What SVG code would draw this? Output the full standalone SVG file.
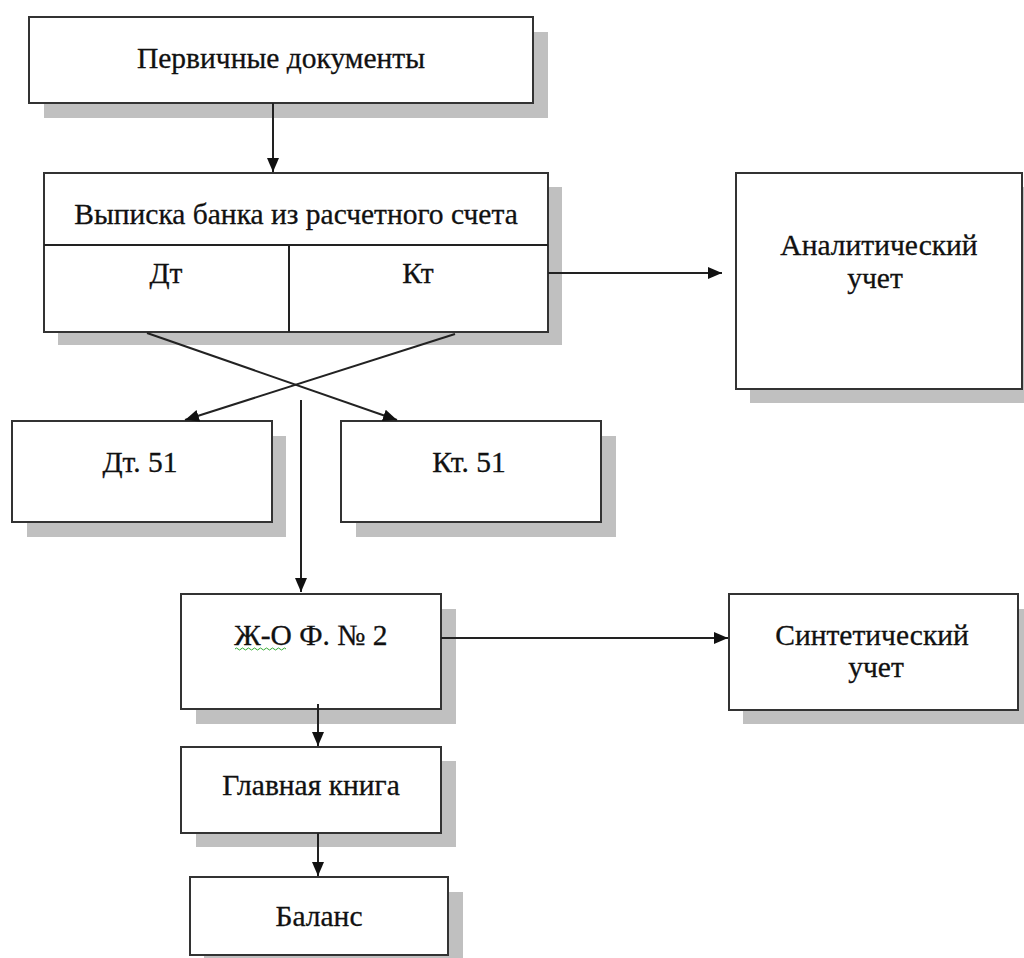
<svg xmlns="http://www.w3.org/2000/svg" width="1024" height="958" viewBox="0 0 1024 958">
<style>
.box{fill:#fff;stroke:#333;stroke-width:2}
.sh{fill:#c0c0c0}
text{font-family:'Liberation Serif','Times New Roman','DejaVu Serif',serif;font-size:29.5px;fill:#111;stroke:#111;stroke-width:0.3;text-anchor:middle}
.c{stroke:#222;stroke-width:2;fill:none}
</style>
<defs>
<marker id="ah" markerUnits="userSpaceOnUse" markerWidth="14" markerHeight="12" refX="14" refY="6" orient="auto">
<path d="M0,0 L14,6 L0,12 Z" fill="#111"/>
</marker>
</defs>
<rect width="1024" height="958" fill="#fff"/>

<g id="n-primary">
<rect class="sh" x="44" y="32" width="504" height="86"/>
<rect class="box" x="29" y="17" width="504" height="86"/>
<text x="281" y="68">Первичные документы</text>
</g>

<g id="n-statement">
<rect class="sh" x="58" y="187" width="504" height="158"/>
<rect class="box" x="44" y="173" width="504" height="159"/>
<line class="c" x1="44" y1="245" x2="548" y2="245"/>
<line class="c" x1="289" y1="245" x2="289" y2="332"/>
<text x="296" y="224">Выписка банка из расчетного счета</text>
<text x="166" y="283">Дт</text>
<text x="418" y="283">Кт</text>
</g>

<g id="n-analytic">
<rect class="sh" x="750" y="187" width="290" height="216"/>
<rect class="box" x="736" y="173" width="286" height="216"/>
<text x="879" y="255">Аналитический</text>
<text x="875" y="288">учет</text>
</g>

<g id="n-dt51">
<rect class="sh" x="27" y="436" width="259" height="101"/>
<rect class="box" x="12" y="421" width="260" height="101"/>
<text x="140" y="472">Дт. 51</text>
</g>

<g id="n-kt51">
<rect class="sh" x="356" y="436" width="260" height="101"/>
<rect class="box" x="341" y="421" width="260" height="101"/>
<text x="469" y="472">Кт. 51</text>
</g>

<g id="n-jo2">
<rect class="sh" x="196" y="609" width="260" height="115"/>
<rect class="box" x="181" y="594" width="260" height="115"/>
<text x="311" y="645">Ж-О Ф. № 2</text>
<path d="M235,649 q1.5,-2 3,0 t3,0 t3,0 t3,0 t3,0 t3,0 t3,0 t3,0 t3,0 t3,0 t3,0 t3,0 t3,0 t3,0 t3,0 t3,0 t3,0" fill="none" stroke="#3a3" stroke-width="1"/>
</g>

<g id="n-synthetic">
<rect class="sh" x="743" y="609" width="290" height="115"/>
<rect class="box" x="729" y="594" width="289" height="116"/>
<text x="872" y="645">Синтетический</text>
<text x="876" y="677">учет</text>
</g>

<g id="n-ledger">
<rect class="sh" x="196" y="761" width="260" height="86"/>
<rect class="box" x="181" y="747" width="260" height="86"/>
<text x="311" y="795">Главная книга</text>
</g>

<g id="n-balance">
<rect class="sh" x="204" y="892" width="259" height="80"/>
<rect class="box" x="190" y="877" width="258" height="78"/>
<text x="319" y="926">Баланс</text>
</g>

<g id="connectors">
<line class="c" x1="273" y1="103" x2="273" y2="172" marker-end="url(#ah)"/>
<line class="c" x1="548" y1="273" x2="722" y2="273" marker-end="url(#ah)"/>
<line class="c" x1="147" y1="333" x2="397" y2="420" marker-end="url(#ah)"/>
<line class="c" x1="455" y1="334" x2="185" y2="420" marker-end="url(#ah)"/>
<line class="c" x1="301" y1="400" x2="301" y2="592" marker-end="url(#ah)"/>
<line class="c" x1="441" y1="638" x2="728" y2="638" marker-end="url(#ah)"/>
<line class="c" x1="318" y1="704" x2="318" y2="746" marker-end="url(#ah)"/>
<line class="c" x1="318" y1="833" x2="318" y2="876" marker-end="url(#ah)"/>
</g>
</svg>
